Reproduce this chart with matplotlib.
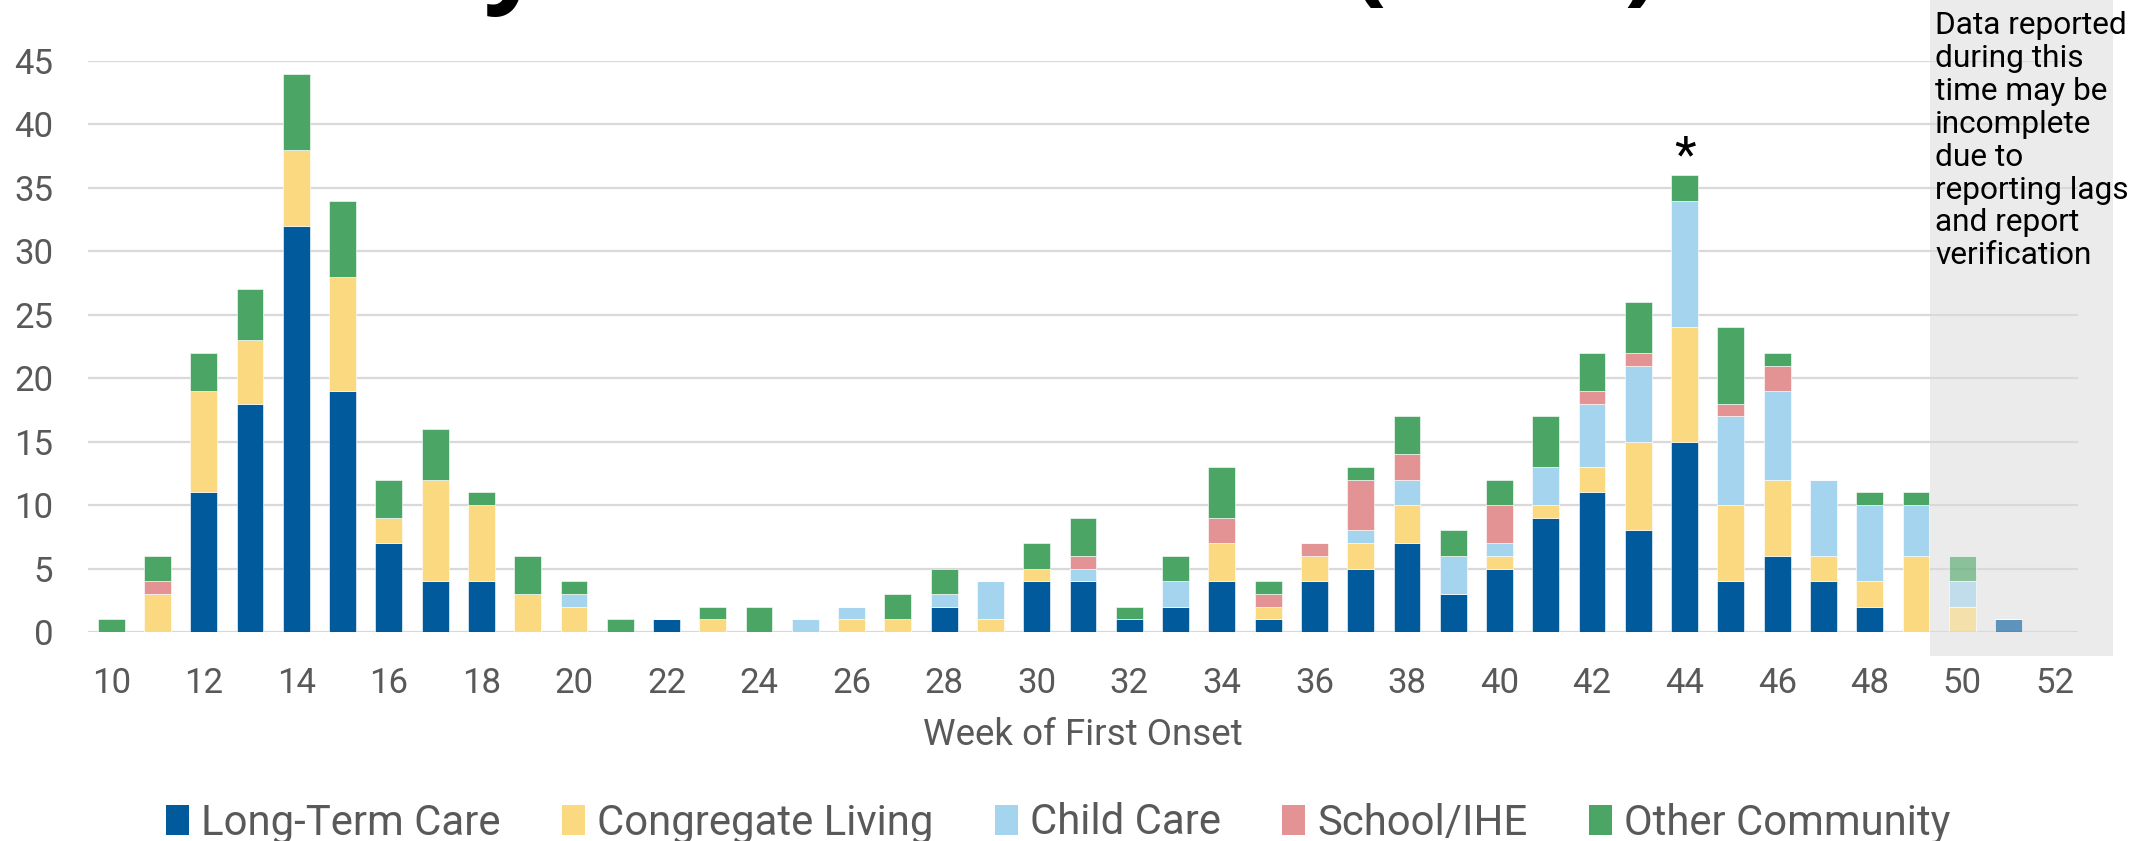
import matplotlib
matplotlib.use("Agg")
import matplotlib.pyplot as plt
from matplotlib.colors import to_rgba
from matplotlib.patches import Patch, Rectangle

plt.rcParams['font.family'] = ['Roboto', 'DejaVu Sans']

# weeks of first onset
weeks = list(range(10, 53))

long_term_care = [0, 0, 11, 18, 32, 19, 7, 4, 4, 0, 0, 0, 1, 0, 0, 0, 0, 0, 2, 0, 4, 4,
                  1, 2, 4, 1, 4, 5, 7, 3, 5, 9, 11, 8, 15, 4, 6, 4, 2, 0, 0, 1, 0]
congregate_living = [0, 3, 8, 5, 6, 9, 2, 8, 6, 3, 2, 0, 0, 1, 0, 0, 1, 1, 0, 1, 1, 0,
                     0, 0, 3, 1, 2, 2, 3, 0, 1, 1, 2, 7, 9, 6, 6, 2, 2, 6, 2, 0, 0]
child_care = [0, 0, 0, 0, 0, 0, 0, 0, 0, 0, 1, 0, 0, 0, 0, 1, 1, 0, 1, 3, 0, 1,
              0, 2, 0, 0, 0, 1, 2, 3, 1, 3, 5, 6, 10, 7, 7, 6, 6, 4, 2, 0, 0]
school_ihe = [0, 1, 0, 0, 0, 0, 0, 0, 0, 0, 0, 0, 0, 0, 0, 0, 0, 0, 0, 0, 0, 1,
              0, 0, 2, 1, 1, 4, 2, 0, 3, 0, 1, 1, 0, 1, 2, 0, 0, 0, 0, 0, 0]
other_community = [1, 2, 3, 4, 6, 6, 3, 4, 1, 3, 1, 1, 0, 1, 2, 0, 0, 2, 2, 0, 2, 3,
                   1, 2, 4, 1, 0, 1, 3, 2, 2, 4, 3, 4, 2, 6, 1, 0, 1, 1, 2, 0, 0]

series_names = ['Long-Term Care', 'Congregate Living', 'Child Care', 'School/IHE', 'Other Community']
series_colors = ['#005A9B', '#FAD981', '#A5D5EE', '#E39393', '#4BA564']
series = [long_term_care, congregate_living, child_care, school_ihe, other_community]

incomplete_from = 50  # weeks from here on may be incomplete
flagged_week = 44
note = "Data reported\nduring this\ntime may be\nincomplete\ndue to\nreporting lags\nand report\nverification"

fig = plt.figure(figsize=(21.36, 8.41), dpi=100)
ax = fig.add_axes([88 / 2136, 1 - 632 / 841, 1990 / 2136, 571 / 841])
ax.patch.set_alpha(0)

gray = '#595959'
bottom = [0] * len(weeks)
for vals, name, col in zip(series, series_names, series_colors):
    cols = [to_rgba(col, 0.6 if w >= incomplete_from else 1.0) for w in weeks]
    ax.bar(weeks, vals, width=0.58, bottom=bottom, color=cols, edgecolor=(1, 1, 1, 0.7),
           linewidth=0.6, zorder=2)
    bottom = [b + v for b, v in zip(bottom, vals)]

# shaded "incomplete" region, runs past the axes to the top of the figure
ax.add_patch(Rectangle((incomplete_from - 0.7, -1.9), 3.96, 60, facecolor='#EBEBEB',
                       edgecolor='none', clip_on=False, zorder=0))
fig.text(1935 / 2136, 1 - 11 / 841, note, ha='left', va='top', fontsize=22.8,
         color='black', linespacing=1.17)

# asterisk over flagged week
ax.text(flagged_week, bottom[weeks.index(flagged_week)] - 0.5, '*', ha='center',
        va='bottom', fontsize=36, color='black', clip_on=False)

ax.set_xlim(9.5, 52.5)
ax.set_ylim(0, 45)
ax.set_xticks(range(10, 53, 2))
ax.set_yticks(range(0, 46, 5))
ax.tick_params(length=0, labelsize=25, labelcolor=gray, pad=25)
ax.grid(axis='y', color='#D9D9D9', linewidth=1.6, zorder=1)
ax.set_axisbelow(True)
for s in ax.spines.values():
    s.set_visible(False)

fig.text(1083 / 2136, 1 - 735 / 841, 'Week of First Onset', ha='center', va='center',
         fontsize=26.5, color=gray)

# title, mostly cropped off the top
fig.text(1660 / 2136, 1 + 8 / 841, 'Outbreaks by Week of Onset (2020)', ha='right',
         va='baseline', fontsize=75, fontweight='bold', color='black',
         family=['Open Sans', 'DejaVu Sans'])

handles = [Patch(facecolor=c, edgecolor='none') for c in series_colors]
fig.legend(handles, series_names, loc='center', bbox_to_anchor=(0.4955, 1 - 823 / 841),
           ncol=5, frameon=False, fontsize=30.2, labelcolor=gray, handlelength=0.55,
           handleheight=0.75, handletextpad=0.3, columnspacing=1.45)

fig.savefig('out.png', dpi=100)
